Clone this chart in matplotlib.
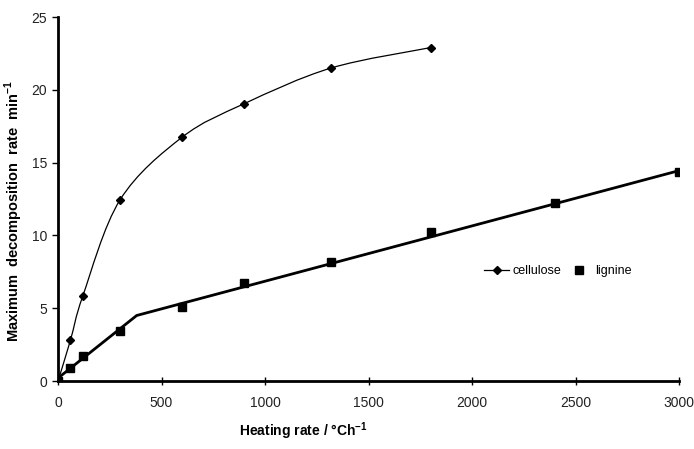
import matplotlib
matplotlib.use("Agg")
import matplotlib.pyplot as plt
from matplotlib.path import Path
from matplotlib.patches import PathPatch

plt.rcParams['font.family'] = ['Liberation Sans', 'DejaVu Sans']
plt.rcParams['mathtext.fontset'] = 'custom'
plt.rcParams['mathtext.rm'] = 'Liberation Sans'
plt.rcParams['mathtext.bf'] = 'Liberation Sans:bold'

# data
cellulose_x = [0, 60, 120, 300, 600, 900, 1320, 1800]
cellulose_y = [0, 2.8, 5.85, 12.45, 16.75, 19.05, 21.5, 22.9]

lignine_x = [0, 60, 120, 300, 600, 900, 1320, 1800, 2400, 3000]
lignine_y = [0, 0.9, 1.7, 3.45, 5.1, 6.7, 8.15, 10.25, 12.25, 14.35]

# two-segment trend line drawn through the lignine points
lignine_fit_x = [0, 380, 3000]
lignine_fit_y = [0.2, 4.5, 14.45]

x_ticks = [0, 500, 1000, 1500, 2000, 2500, 3000]
y_ticks = [0, 5, 10, 15, 20, 25]


def smooth_path(xs, ys):
    # catmull-rom style bezier through the points (like a spreadsheet smoothed line)
    pts = list(zip(xs, ys))
    verts = [pts[0]]
    codes = [Path.MOVETO]
    n = len(pts)
    for i in range(n - 1):
        p0 = pts[i - 1] if i > 0 else pts[i]
        p1 = pts[i]
        p2 = pts[i + 1]
        p3 = pts[i + 2] if i + 2 < n else pts[i + 1]
        c1 = (p1[0] + (p2[0] - p0[0]) / 6.0, p1[1] + (p2[1] - p0[1]) / 6.0)
        c2 = (p2[0] - (p3[0] - p1[0]) / 6.0, p2[1] - (p3[1] - p1[1]) / 6.0)
        verts += [c1, c2, p2]
        codes += [Path.CURVE4, Path.CURVE4, Path.CURVE4]
    return Path(verts, codes)


fig = plt.figure(figsize=(6.94, 4.49), dpi=100)
ax = fig.add_axes([0.0836, 0.1514, 0.8948, 0.8107])

ax.add_patch(PathPatch(smooth_path(cellulose_x, cellulose_y), facecolor='none',
                       edgecolor='black', linewidth=0.9))
ax.plot(cellulose_x, cellulose_y, linestyle='none', marker='D', markersize=4.2,
        color='black')
ax.plot(lignine_fit_x, lignine_fit_y, color='black', linewidth=2)
ax.plot(lignine_x, lignine_y, linestyle='none', marker='s', markersize=6,
        color='black')

# legend handles
ax.plot([], [], color='black', linewidth=0.9, marker='D', markersize=4.2,
        label='cellulose')
ax.plot([], [], linestyle='none', marker='s', markersize=6, color='black',
        label='lignine')
handles, labels = ax.get_legend_handles_labels()
ax.legend(handles[-2:], labels[-2:], loc='center left',
          bbox_to_anchor=(0.672, 0.302), frameon=False, ncol=2, fontsize=9,
          handlelength=2.0, columnspacing=0.45, handletextpad=0.25,
          borderpad=0.2)

ax.set_xlim(0, 3000)
ax.set_ylim(0, 25)
ax.set_xticks(x_ticks)
ax.set_yticks(y_ticks)
ax.spines['top'].set_visible(False)
ax.spines['right'].set_visible(False)
ax.spines['left'].set_linewidth(2)
ax.spines['bottom'].set_linewidth(2)
ax.tick_params(axis='y', direction='out', length=4, width=1, labelsize=10, pad=4)
ax.tick_params(axis='x', direction='inout', length=6, width=1, labelsize=10, pad=8)
for lab in ax.get_xticklabels() + ax.get_yticklabels():
    lab.set_color('#222222')

ax.set_xlabel(r'Heating rate / °Ch$^{\mathbf{-1}}$', fontsize=10,
              fontweight='bold')
ax.xaxis.set_label_coords(0.395, -0.107)
ax.set_ylabel(r'Maximum  decomposition  rate  min$^{\mathbf{-1}}$', fontsize=10.5,
              fontweight='bold')
ax.yaxis.set_label_coords(-0.053, 0.467)

fig.savefig('out.png', dpi=100)
